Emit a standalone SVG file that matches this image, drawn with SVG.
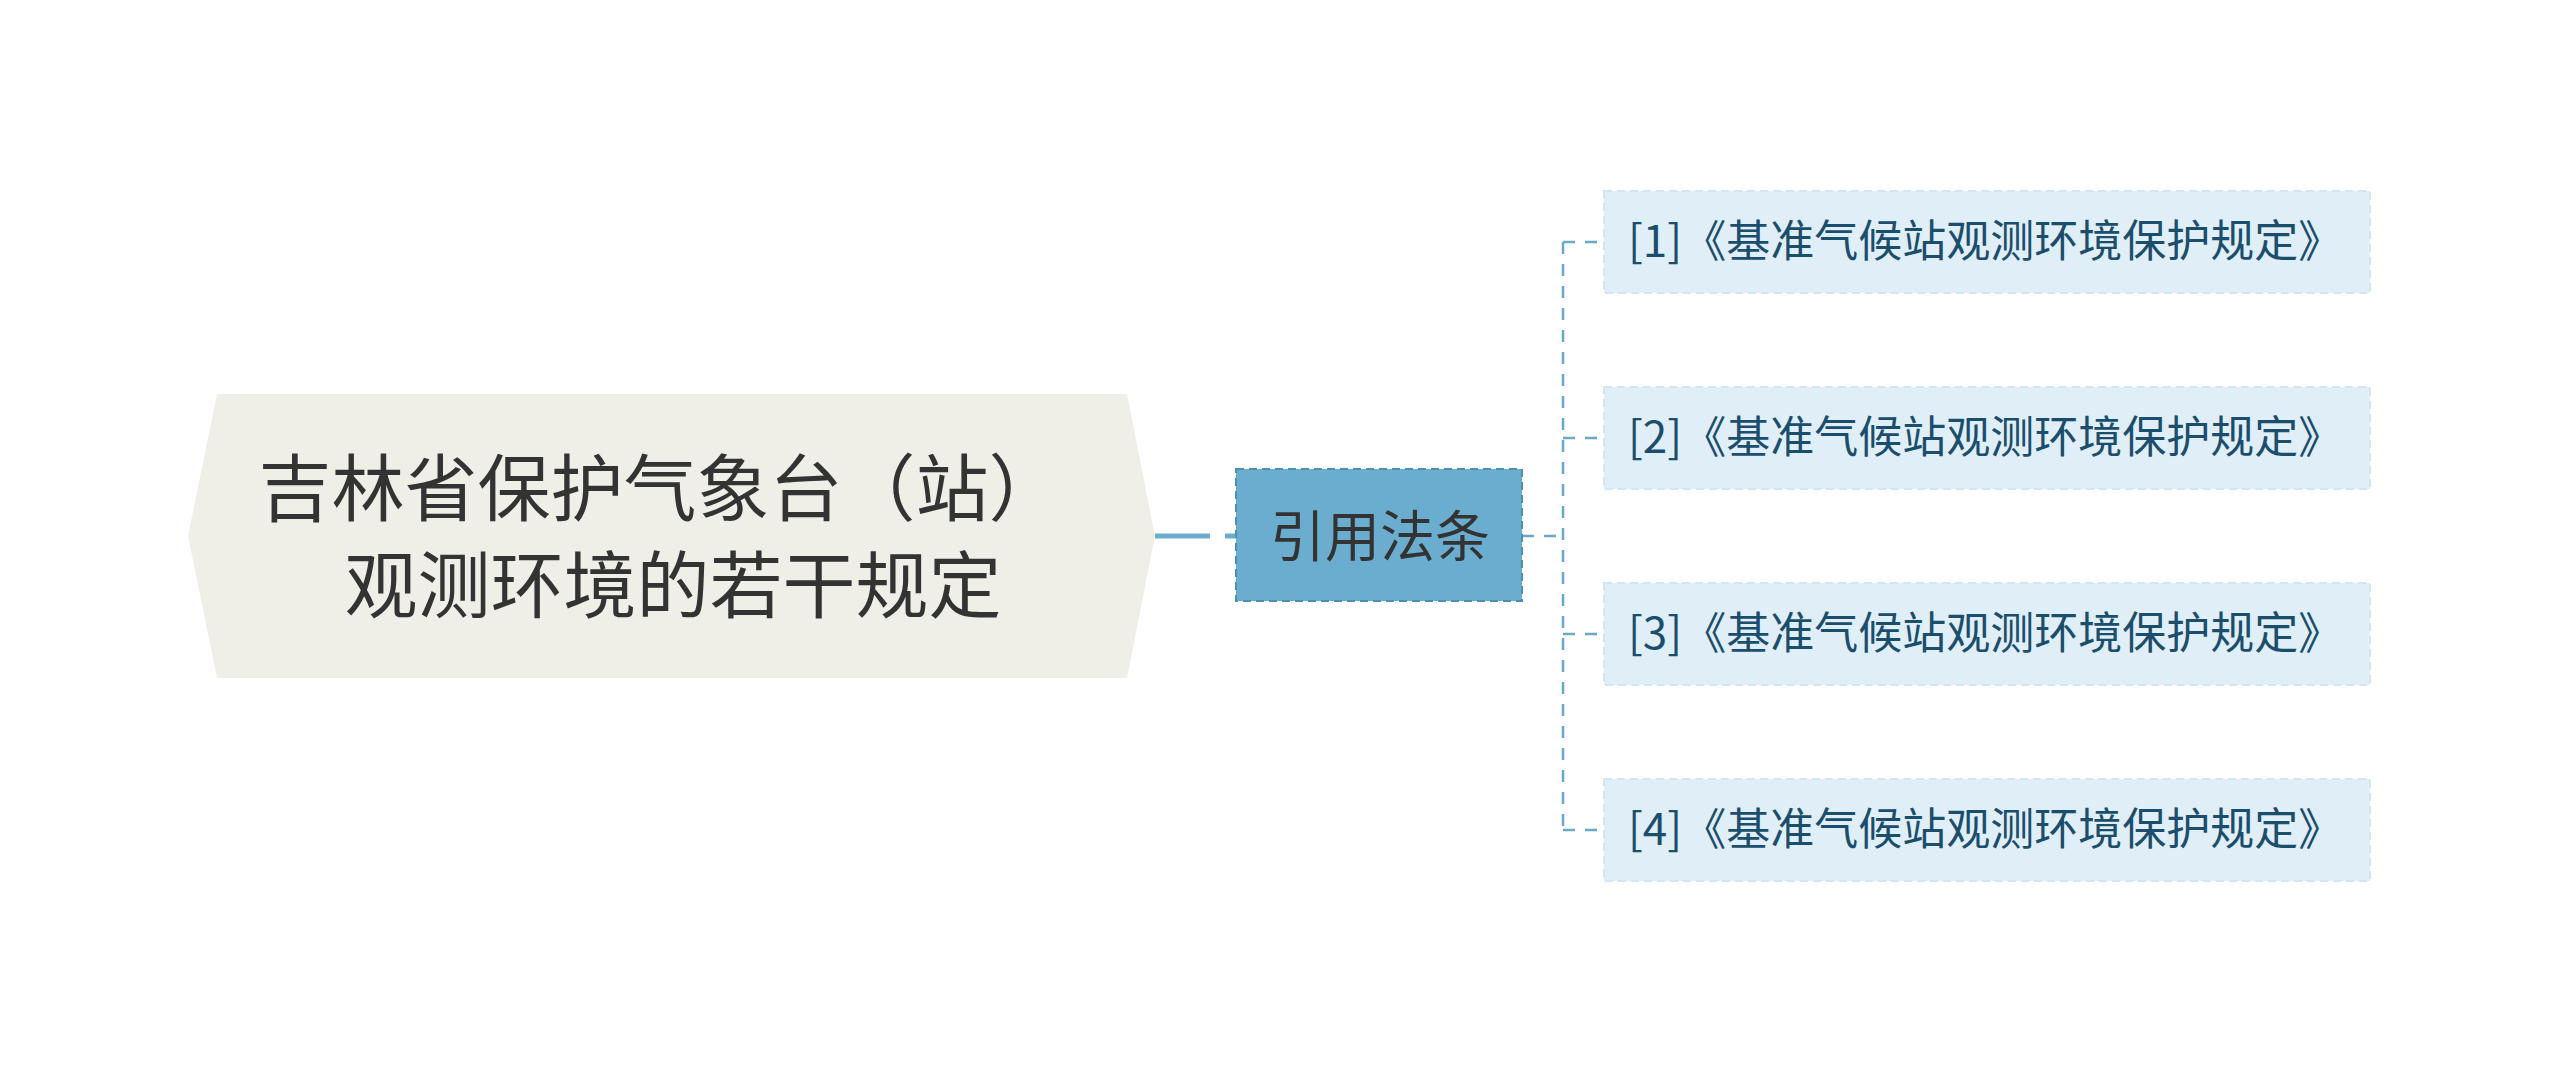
<svg xmlns="http://www.w3.org/2000/svg" width="2560" height="1071" viewBox="0 0 2560 1071">
<style>
.root{fill:#efefe7}
.rt{font-family:"Noto Sans CJK SC","Noto Sans",sans-serif;font-size:73px;fill:#333;text-anchor:middle}
.mid{fill:#6aadcf;stroke:#4d8fb3;stroke-width:2;stroke-dasharray:8 5}
.mt{font-family:"Noto Sans CJK SC","Noto Sans",sans-serif;font-size:55px;fill:#333;text-anchor:middle}
.leaf{fill:#e0eff7;stroke:#d2e6f1;stroke-width:2;stroke-dasharray:8 5}
.lt{font-family:"Noto Sans CJK SC","Noto Sans",sans-serif;font-size:44px;fill:#1b4d6d}
.c{fill:none;stroke:#6aa8c8;stroke-width:2.5;stroke-dasharray:12 10}
</style>
<rect width="2560" height="1071" fill="#fff"/>
<g id="connectors">
<path d="M1155 536 H1236" fill="none" stroke="#6aadcf" stroke-width="5" stroke-dasharray="55 15 20 0"/>
<path class="c" d="M1522 536 H1563 M1563 242 V830 M1563 242 H1604 M1563 438 H1604 M1563 634 H1604 M1563 830 H1604"/>
</g>
<g id="root">
<polygon class="root" points="188,536 217,394 1127,394 1155,536 1127,678 217,678"/>
<text class="rt" x="660" y="515">吉林省保护气象台（站）</text>
<text class="rt" x="673" y="612">观测环境的若干规定</text>
</g>
<g id="mid">
<rect class="mid" x="1236" y="469" width="286" height="132"/>
<text class="mt" x="1380" y="556">引用法条</text>
</g>
<g id="leaf1"><rect class="leaf" x="1604" y="191" width="766" height="102"/><text class="lt" x="1628" y="257">[1]《基准气候站观测环境保护规定》</text></g>
<g id="leaf2"><rect class="leaf" x="1604" y="387" width="766" height="102"/><text class="lt" x="1628" y="453">[2]《基准气候站观测环境保护规定》</text></g>
<g id="leaf3"><rect class="leaf" x="1604" y="583" width="766" height="102"/><text class="lt" x="1628" y="649">[3]《基准气候站观测环境保护规定》</text></g>
<g id="leaf4"><rect class="leaf" x="1604" y="779" width="766" height="102"/><text class="lt" x="1628" y="845">[4]《基准气候站观测环境保护规定》</text></g>
</svg>
